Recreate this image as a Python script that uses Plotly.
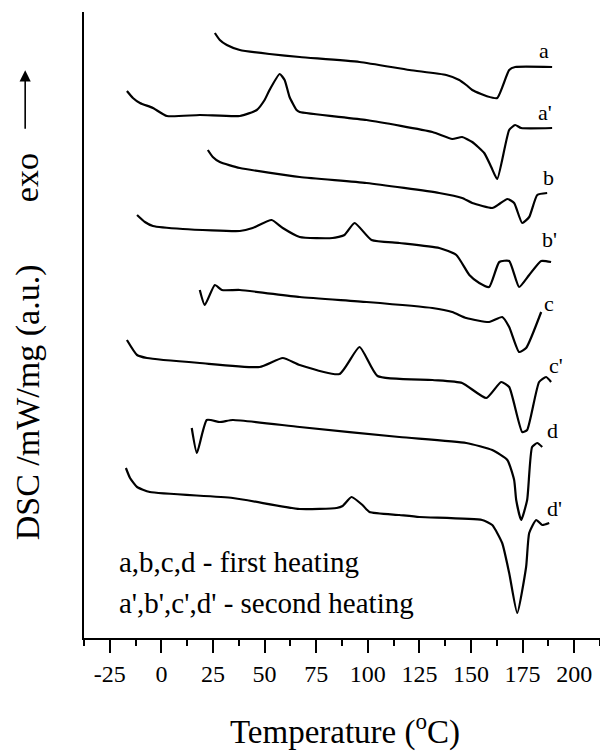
import plotly.graph_objects as go

# Temperature (°C) and DSC signal (a.u., arbitrary offset units)
a_T = [25.9, 28.3, 31.7, 38.0, 52.4, 67.0, 96.0, 120.2, 138.0, 144.3, 147.7, 150.6, 154.9, 157.4, 162.7, 168.5, 171.4, 189.3]
a_y = [605, 598, 593, 588, 584, 581, 576, 568, 563, 558, 553, 548, 544, 542, 540, 568, 571, 571]

a2_T = [-16.7, -13.8, -10.4, -4.1, 2.7, 18.6, 38.0, 46.2, 50.0, 52.4, 57.3, 59.7, 62.1, 65.5, 67.0, 99.4, 131.3, 140.9, 145.7, 150.6, 156.4, 159.8, 162.7, 168.5, 171.4, 174.3, 189.3]
a2_y = [547, 540, 535, 530, 522, 523, 522, 528, 538, 548, 564, 558, 541, 528, 526, 518, 506, 499, 501, 496, 485, 471, 459, 508, 513, 510, 510]

b_T = [22.5, 24.9, 28.3, 38.0, 67.0, 99.4, 134.6, 145.7, 150.6, 160.3, 163.7, 167.6, 170.9, 174.8, 178.2, 182.1, 186.9]
b_y = [488, 481, 476, 470, 461, 455, 445, 440, 435, 430, 434, 439, 435, 415, 421, 443, 445]

b2_T = [-11.8, -8.0, -4.1, 10.4, 38.0, 44.2, 53.4, 58.8, 67.0, 82.9, 88.7, 93.6, 101.8, 115.3, 134.6, 142.9, 149.2, 154.0, 158.8, 163.7, 168.5, 173.3, 178.2, 184.0, 188.8]
b2_y = [423, 416, 412, 409, 407, 410, 418, 410, 401, 400, 403, 415, 398, 395, 390, 383, 363, 355, 351, 376, 377, 351, 363, 377, 376]

c_T = [18.6, 21.0, 25.9, 29.3, 38.0, 67.0, 99.4, 131.3, 140.9, 147.7, 158.8, 165.1, 168.5, 173.3, 176.7, 184.0]
c_y = [348, 333, 353, 348, 348, 341, 336, 330, 326, 320, 316, 321, 311, 286, 290, 326]

c2_T = [-16.7, -11.8, -7.0, 18.6, 47.6, 58.8, 67.0, 86.3, 96.0, 104.7, 131.3, 145.7, 157.4, 164.6, 168.5, 174.8, 177.2, 183.0, 186.4, 188.8]
c2_y = [298, 283, 280, 275, 271, 280, 273, 264, 291, 262, 258, 255, 240, 256, 251, 206, 208, 256, 261, 256]

d_T = [14.7, 17.2, 22.0, 28.3, 34.6, 67.0, 115.3, 147.7, 160.3, 167.6, 170.9, 171.9, 174.3, 177.2, 179.6, 182.1, 184.5]
d_y = [210, 185, 218, 216, 218, 211, 201, 195, 188, 178, 158, 138, 118, 138, 191, 195, 191]

d2_T = [-17.2, -15.2, -11.8, -5.6, 34.6, 67.0, 84.9, 87.8, 92.1, 97.4, 100.8, 115.3, 125.0, 155.4, 160.3, 165.1, 168.5, 172.4, 176.7, 178.2, 181.6, 184.5, 187.9]
d2_y = [170, 160, 151, 146, 140, 129, 130, 132, 141, 133, 126, 123, 121, 118, 113, 95, 65, 25, 71, 105, 118, 113, 115]

curve_names = ["a", "a'", "b", "b'", "c", "c'", "d", "d'"]
curve_T = [a_T, a2_T, b_T, b2_T, c_T, c2_T, d_T, d2_T]
curve_y = [a_y, a2_y, b_y, b2_y, c_y, c2_y, d_y, d2_y]
label_T = [185.4, 185.9, 187.4, 187.9, 187.9, 191.3, 189.3, 190.3]
label_y = [588, 526, 461, 399, 335, 273, 208, 130]

x_ticks = [-25, 0, 25, 50, 75, 100, 125, 150, 175, 200]
x_ticktext = ["-25", "0", "25", "50", "75", "100", "125", "150", "175", "200"]

FONT = "Liberation Serif, Times New Roman, serif"

fig = go.Figure()
for name, T, y in zip(curve_names, curve_T, curve_y):
    fig.add_trace(go.Scatter(x=T, y=y, mode="lines", name=name,
                             line=dict(color="black", width=2.2, shape="spline", smoothing=0.5),
                             showlegend=False, hoverinfo="skip"))

for name, lx, ly in zip(curve_names, label_T, label_y):
    fig.add_annotation(x=lx, y=ly, xref="x", yref="y", text=name, showarrow=False,
                       font=dict(family=FONT, size=22, color="black"))

fig.add_annotation(x=0.064, y=0.121, xref="paper", yref="paper", xanchor="left", yanchor="middle",
                   text="a,b,c,d - first heating", showarrow=False,
                   font=dict(family=FONT, size=29, color="black"))
fig.add_annotation(x=0.064, y=0.056, xref="paper", yref="paper", xanchor="left", yanchor="middle",
                   text="a',b',c',d' - second heating", showarrow=False,
                   font=dict(family=FONT, size=29, color="black"))

# axis titles
fig.add_annotation(x=0.505, y=-0.146, xref="paper", yref="paper", xanchor="center", yanchor="middle",
                   text="Temperature (<sup>o</sup>C)", showarrow=False,
                   font=dict(family=FONT, size=33, color="black"))
fig.add_annotation(x=-0.108, y=0.377, xref="paper", yref="paper", xanchor="center", yanchor="middle",
                   text="DSC /mW/mg (a.u.)", textangle=-90, showarrow=False,
                   font=dict(family=FONT, size=34, color="black"))
fig.add_annotation(x=-0.110, y=0.735, xref="paper", yref="paper", xanchor="center", yanchor="middle",
                   text="exo", textangle=-90, showarrow=False,
                   font=dict(family=FONT, size=34, color="black"))
# "exo" direction arrow (pointing up)
fig.add_annotation(x=-0.114, y=0.907, xref="paper", yref="paper", text="", showarrow=True,
                   ax=0, ay=60, arrowhead=2, arrowsize=1.4, arrowwidth=1.6, arrowcolor="black")

fig.update_xaxes(range=[-37.5, 212.5], showline=True, linecolor="black", linewidth=2,
                 showgrid=False, zeroline=False, ticks="outside", ticklen=13, tickwidth=2,
                 tickcolor="black", tickvals=x_ticks, ticktext=x_ticktext,
                 tickfont=dict(family=FONT, size=24, color="black"),
                 minor=dict(tickmode="linear", tick0=-37.5, dtick=12.5, ticks="outside",
                            ticklen=6, tickwidth=2, tickcolor="black", showgrid=False))
fig.update_yaxes(range=[0, 626], showline=True, linecolor="black", linewidth=2,
                 showgrid=False, zeroline=False, showticklabels=False, ticks="")

fig.update_layout(width=600, height=753, margin=dict(l=84, r=0, t=12, b=115),
                  paper_bgcolor="white", plot_bgcolor="white")

fig.write_html("out.html")
